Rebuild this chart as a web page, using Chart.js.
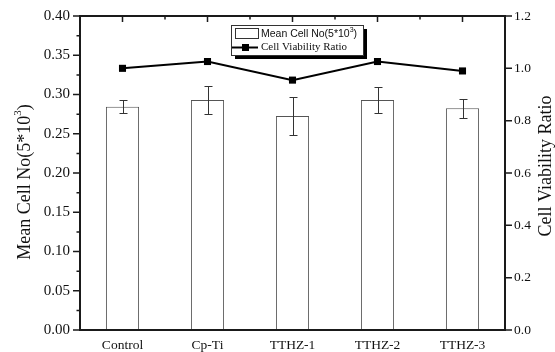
<!DOCTYPE html>
<html><head><meta charset="utf-8">
<script src="https://cdn.jsdelivr.net/npm/chart.js@4.4.0/dist/chart.umd.min.js"></script>
<style>html,body{margin:0;padding:0;background:#fff;}canvas{display:block;}</style>
</head><body>
<canvas id="c" width="555" height="352"></canvas>
<script>
const categories = ['Control', 'Cp-Ti', 'TTHZ-1', 'TTHZ-2', 'TTHZ-3'];
const meanCellNo = [0.2845, 0.293, 0.2725, 0.293, 0.2825];
const meanCellErr = [0.0085, 0.018, 0.024, 0.016, 0.012];
const viabilityRatio = [1.0, 1.026, 0.955, 1.026, 0.99];
const leftTicks = [0, 0.05, 0.10, 0.15, 0.20, 0.25, 0.30, 0.35, 0.40];
const rightTicks = [0, 0.2, 0.4, 0.6, 0.8, 1.0, 1.2];

const SERIF = "'Liberation Serif', 'Times New Roman', serif";
const SANS = "'Liberation Sans', Arial, sans-serif";
const AX = '#1a1a1a';

function drawSup(ctx, parts, x, y, align) {
  const widths = parts.map(p => { ctx.font = p[1]; return ctx.measureText(p[0]).width; });
  const total = widths.reduce((s, w) => s + w, 0);
  let sx = align === 'center' ? x - total / 2 : x;
  ctx.textAlign = 'left';
  parts.forEach((p, i) => { ctx.font = p[1]; ctx.fillText(p[0], sx, y + p[2]); sx += widths[i]; });
  return total;
}

const decor = {
  id: 'decor',
  afterDatasetsDraw(chart) {
    const ctx = chart.ctx;
    const x = chart.scales.x, y = chart.scales.y;
    ctx.save();
    ctx.strokeStyle = '#333'; ctx.lineWidth = 1;
    meanCellNo.forEach((v, i) => {
      const cx = Math.round(x.getPixelForValue(i)) + 0.5;
      const t = Math.round(y.getPixelForValue(v + meanCellErr[i])) + 0.5;
      const b = Math.round(y.getPixelForValue(v - meanCellErr[i])) + 0.5;
      ctx.beginPath();
      ctx.moveTo(cx, t); ctx.lineTo(cx, b);
      ctx.moveTo(cx - 4, t); ctx.lineTo(cx + 4, t);
      ctx.moveTo(cx - 4, b); ctx.lineTo(cx + 4, b);
      ctx.stroke();
    });
    ctx.restore();
  },
  afterDraw(chart) {
    const ctx = chart.ctx, a = chart.chartArea;
    const x = chart.scales.x, y = chart.scales.y, y1 = chart.scales.y1;
    ctx.save();
    ctx.strokeStyle = AX; ctx.lineWidth = 2;
    ctx.beginPath();
    ctx.moveTo(a.left, a.top); ctx.lineTo(a.right, a.top);
    ctx.moveTo(a.left, a.bottom); ctx.lineTo(a.right, a.bottom);
    ctx.moveTo(a.left, a.top - 1); ctx.lineTo(a.left, a.bottom + 1);
    ctx.moveTo(a.right, a.top - 1); ctx.lineTo(a.right, a.bottom + 1);
    ctx.stroke();
    ctx.lineWidth = 1.5;
    ctx.beginPath();
    leftTicks.forEach((v, i) => {
      const py = y.getPixelForValue(v);
      ctx.moveTo(a.left, py); ctx.lineTo(a.left - 7, py);
      if (i < leftTicks.length - 1) {
        const pm = y.getPixelForValue((v + leftTicks[i + 1]) / 2);
        ctx.moveTo(a.left, pm); ctx.lineTo(a.left - 3.5, pm);
      }
    });
    rightTicks.forEach(v => {
      const py = y1.getPixelForValue(v);
      ctx.moveTo(a.right, py); ctx.lineTo(a.right + 7, py);
    });
    categories.forEach((c, i) => {
      const px = x.getPixelForValue(i);
      ctx.moveTo(px, a.top); ctx.lineTo(px, a.top + 6);
      if (i > 0) {
        const pb = (px + x.getPixelForValue(i - 1)) / 2;
        ctx.moveTo(pb, a.top); ctx.lineTo(pb, a.top + 3.5);
      }
    });
    ctx.stroke();

    ctx.fillStyle = '#111';
    ctx.textBaseline = 'middle';
    ctx.save();
    ctx.translate(25, 182);
    ctx.rotate(-Math.PI / 2);
    drawSup(ctx, [['Mean Cell No(5*10', '18px ' + SERIF, 0], ['3', '11px ' + SERIF, -7], [')', '18px ' + SERIF, 0]], 0, 0, 'center');
    ctx.restore();
    ctx.save();
    ctx.translate(546, 166);
    ctx.rotate(-Math.PI / 2);
    ctx.font = '18px ' + SERIF;
    ctx.textAlign = 'center';
    ctx.fillText('Cell Viability Ratio', 0, 0);
    ctx.restore();

    const lx = 231, ly = 25, lw = 132, lh = 30;
    ctx.fillStyle = '#000';
    ctx.fillRect(lx + 4, ly + 4, lw, lh);
    ctx.fillStyle = '#fff';
    ctx.fillRect(lx, ly, lw, lh);
    ctx.strokeStyle = '#333'; ctx.lineWidth = 1;
    ctx.strokeRect(lx + 0.5, ly + 0.5, lw, lh);
    ctx.strokeRect(235.5, 28.5, 23, 10);
    ctx.fillStyle = '#111';
    ctx.textBaseline = 'middle';
    drawSup(ctx, [['Mean Cell No(5*10', '10.5px ' + SANS, 0], ['3', '7px ' + SANS, -4], [')', '10.5px ' + SANS, 0]], 261, 34.5, 'left');
    ctx.strokeStyle = '#000'; ctx.lineWidth = 2;
    ctx.beginPath(); ctx.moveTo(232, 47.5); ctx.lineTo(258, 47.5); ctx.stroke();
    ctx.fillStyle = '#000';
    ctx.fillRect(242, 44, 7, 7);
    ctx.fillStyle = '#111';
    ctx.font = '11px ' + SERIF;
    ctx.textAlign = 'left';
    ctx.fillText('Cell Viability Ratio', 261, 47.5);
    ctx.restore();
  }
};

new Chart(document.getElementById('c'), {
  type: 'bar',
  data: {
    labels: categories,
    datasets: [
      {
        type: 'line',
        label: 'Cell Viability Ratio',
        data: viabilityRatio,
        yAxisID: 'y1',
        borderColor: '#000',
        backgroundColor: '#000',
        borderWidth: 2,
        pointStyle: 'rect',
        pointRadius: 5,
        pointBorderWidth: 0,
        tension: 0,
        order: 1
      },
      {
        type: 'bar',
        label: 'Mean Cell No(5*10³)',
        data: meanCellNo,
        yAxisID: 'y',
        backgroundColor: '#fff',
        borderColor: '#555',
        borderWidth: 1,
        barPercentage: 0.39,
        categoryPercentage: 1,
        order: 2
      }
    ]
  },
  options: {
    responsive: false,
    animation: false,
    devicePixelRatio: 1,
    layout: { padding: { top: 16, left: 0, right: 0, bottom: 0 } },
    plugins: { legend: { display: false }, tooltip: { enabled: false } },
    scales: {
      x: {
        grid: { display: false, drawTicks: false },
        border: { display: false },
        ticks: { font: { family: SERIF, size: 13.5 }, color: '#111', padding: 7, maxRotation: 0 },
        afterFit(s) { s.height = 22; s.paddingLeft = 0; s.paddingRight = 0; }
      },
      y: {
        position: 'left',
        min: 0, max: 0.4,
        grid: { display: false, drawTicks: false },
        border: { display: false },
        ticks: { stepSize: 0.05, font: { family: SERIF, size: 15 }, color: '#111', padding: 10,
          callback: v => Number(v).toFixed(2) },
        afterFit(s) { s.width = 80; s.paddingTop = 0; s.paddingBottom = 0; }
      },
      y1: {
        position: 'right',
        min: 0, max: 1.2,
        grid: { display: false, drawTicks: false },
        border: { display: false },
        ticks: { stepSize: 0.2, font: { family: SERIF, size: 13.5 }, color: '#111', padding: 9,
          callback: v => Number(v).toFixed(1) },
        afterFit(s) { s.width = 50; s.paddingTop = 0; s.paddingBottom = 0; }
      }
    }
  },
  plugins: [decor]
});
</script>
</body></html>
